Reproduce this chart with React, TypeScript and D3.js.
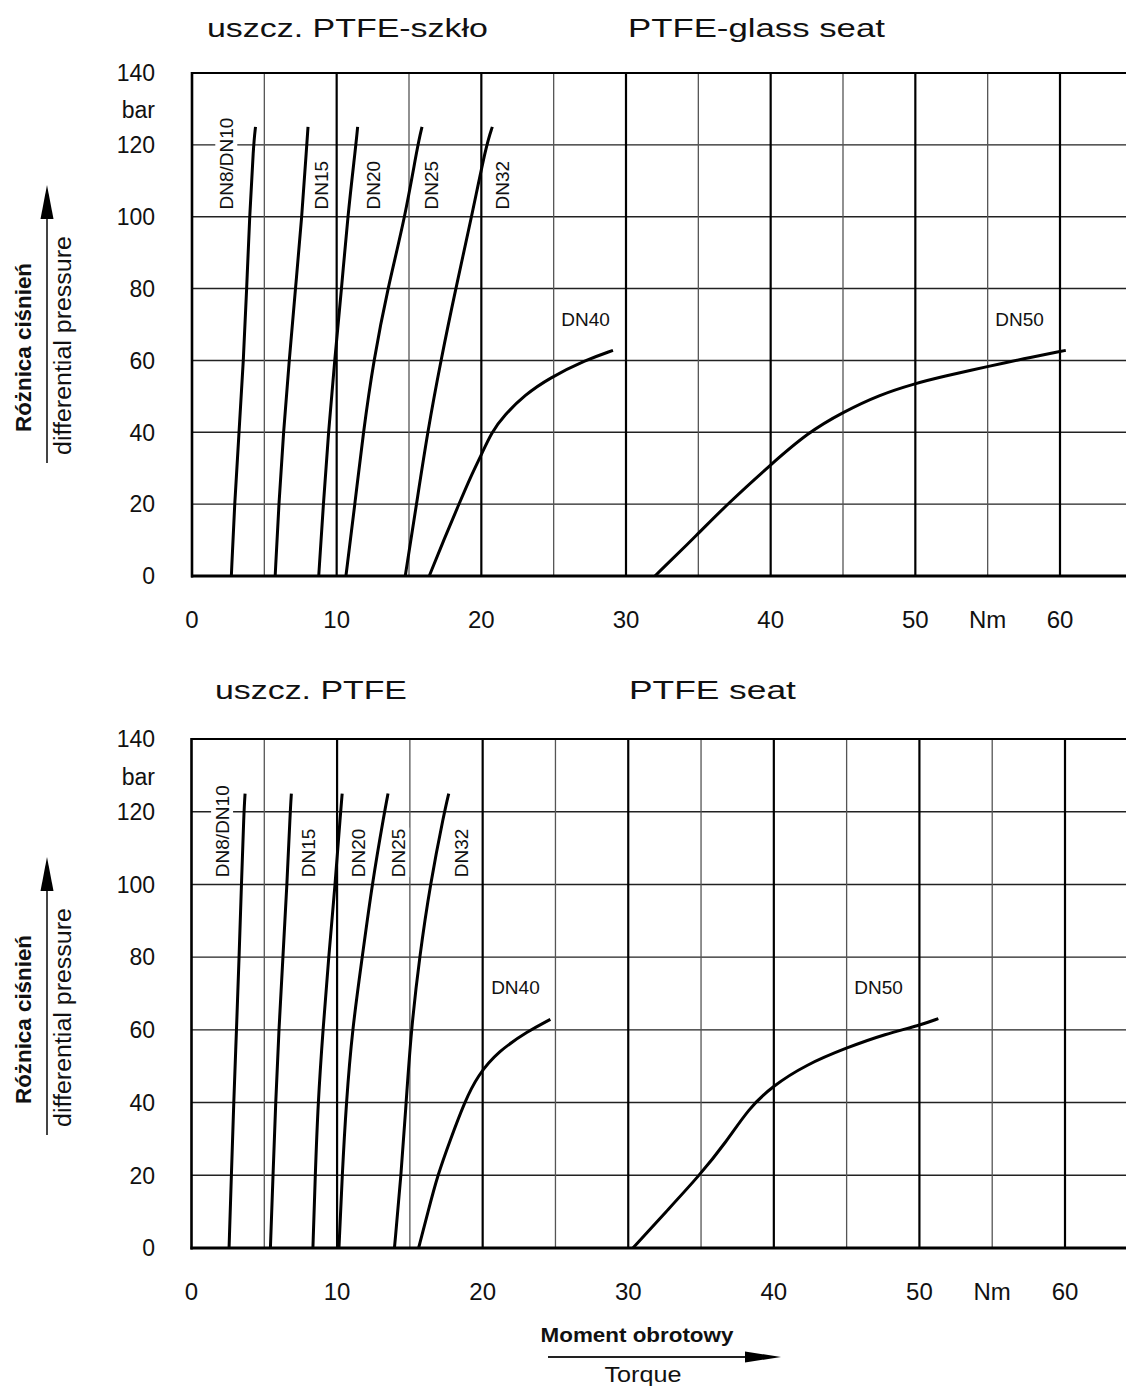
import React, { useLayoutEffect, useRef, useState } from "react";
import * as d3 from "d3";

// ---------- DATA ----------
const torqueTicks = [0, 10, 20, 30, 40, 50, 60];
const pressureTicks = [0, 20, 40, 60, 80, 100, 120, 140];
const torqueGrid = [5, 10, 15, 20, 25, 30, 35, 40, 45, 50, 55, 60];
const pressureGrid = [20, 40, 60, 80, 100, 120];
const torqueUnit = "Nm";
const torqueUnitAt = 55;
const pressureUnit = "bar";

// PTFE-glass seat: [torque Nm, pressure bar]
const glassDN8 = [[2.72, 0], [2.94, 20], [3.25, 40], [3.56, 60], [3.78, 80], [3.98, 100], [4.25, 120], [4.39, 125]];
const glassDN15 = [[5.75, 0], [6.0, 20], [6.32, 40], [6.72, 60], [7.15, 80], [7.6, 100], [7.93, 120], [8.02, 125]];
const glassDN20 = [[8.76, 0], [9.08, 20], [9.43, 40], [9.86, 60], [10.34, 80], [10.76, 100], [11.33, 120], [11.45, 125]];
const glassDN25 = [[10.64, 0], [11.26, 20], [11.84, 40], [12.55, 60], [13.52, 80], [14.74, 100], [15.6, 120], [15.9, 125]];
const glassDN32 = [[14.74, 0], [15.52, 20], [16.28, 40], [17.2, 60], [18.23, 80], [19.33, 100], [20.34, 120], [20.76, 125]];
const glassDN40 = [[16.4, 0], [17.4, 10], [18.4, 19.5], [19.3, 28], [20, 33.7], [20.7, 40], [21.6, 44.8], [23, 50.4], [24.7, 55.1], [27.2, 60.1], [29.1, 62.8]];
const glassDN50 = [[32, 0], [35, 11.8], [37, 20], [40, 31], [42.6, 40], [45, 45.6], [47.5, 50.4], [50, 53.6], [52, 55.6], [55, 58.3], [57.4, 60.4], [60.4, 62.8]];

// PTFE seat
const ptfeDN8 = [[2.58, 0], [2.74, 20], [2.9, 40], [3.09, 60], [3.27, 80], [3.43, 100], [3.6, 120], [3.68, 125]];
const ptfeDN15 = [[5.42, 0], [5.6, 20], [5.78, 40], [6.0, 60], [6.28, 80], [6.56, 100], [6.78, 120], [6.86, 125]];
const ptfeDN20 = [[8.34, 0], [8.5, 20], [8.69, 40], [9.03, 60], [9.42, 80], [9.87, 100], [10.24, 120], [10.35, 125]];
const ptfeDN25 = [[10.13, 0], [10.35, 20], [10.63, 40], [11.04, 60], [11.73, 80], [12.4, 100], [13.26, 120], [13.5, 125]];
const ptfeDN32 = [[13.94, 0], [14.4, 20], [14.74, 40], [15.09, 60], [15.66, 80], [16.39, 100], [17.37, 120], [17.67, 125]];
const ptfeDN40 = [[15.6, 0], [16.25, 10], [16.9, 20], [17.8, 30], [18.74, 40], [19.66, 47.5], [21.1, 54.2], [23.1, 59.6], [24.65, 62.9]];
const ptfeDN50 = [[30.32, 0], [32.6, 10], [34.9, 20], [36.7, 29], [38.3, 38.5], [39.9, 44.5], [42.2, 50.4], [45, 55.1], [47.7, 58.9], [50, 61.2], [51.3, 63.1]];

// labels: rotated (reading upward, start at pressure) and horizontal
const glassRotLabels = [
  { name: "DN8/DN10", t: 2.37 },
  { name: "DN15", t: 8.93 },
  { name: "DN20", t: 12.49 },
  { name: "DN25", t: 16.5 },
  { name: "DN32", t: 21.47 },
];
const glassFlatLabels = [
  { name: "DN40", t: 27.2, p: 69.6 },
  { name: "DN50", t: 57.2, p: 69.6 },
];
const ptfeRotLabels = [
  { name: "DN8/DN10", t: 2.1 },
  { name: "DN15", t: 8.0 },
  { name: "DN20", t: 11.42 },
  { name: "DN25", t: 14.2 },
  { name: "DN32", t: 18.5 },
];
const ptfeFlatLabels = [
  { name: "DN40", t: 22.25, p: 69.9 },
  { name: "DN50", t: 47.2, p: 69.9 },
];
const rotLabelStart = 102;

const yTitlePl = "Różnica ciśnień";
const yTitleEn = "differential pressure";
const xTitlePl = "Moment obrotowy";
const xTitleEn = "Torque";

// ---------- LAYOUT ----------
const W = 1126;
const H = 1386;
const FONT = "'Liberation Sans', Arial, Helvetica, sans-serif";

const charts = [
  {
    key: "glass",
    titlePl: "uszcz. PTFE-szkło",
    titleEn: "PTFE-glass seat",
    titlePlX: 207, titlePlW: 281,
    titleEnX: 628, titleEnW: 257,
    titleBase: 37,
    x0: 192, x60: 1060, y0: 576, y140: 73,
    series: [glassDN8, glassDN15, glassDN20, glassDN25, glassDN32, glassDN40, glassDN50],
    rot: glassRotLabels,
    flat: glassFlatLabels,
    xTitle: false,
  },
  {
    key: "ptfe",
    titlePl: "uszcz. PTFE",
    titleEn: "PTFE seat",
    titlePlX: 215, titlePlW: 192,
    titleEnX: 629, titleEnW: 167,
    titleBase: 698.5,
    x0: 191.5, x60: 1065, y0: 1248, y140: 739,
    series: [ptfeDN8, ptfeDN15, ptfeDN20, ptfeDN25, ptfeDN32, ptfeDN40, ptfeDN50],
    rot: ptfeRotLabels,
    flat: ptfeFlatLabels,
    xTitle: true,
  },
];

// text stretched horizontally (along its own direction) to a target width
function StretchText({ x, y, rotate = 0, width, anchor = "start", dy, children, ...rest }) {
  const ref = useRef(null);
  const [s, setS] = useState(1);
  useLayoutEffect(() => {
    if (ref.current) {
      const w = ref.current.getComputedTextLength();
      if (w > 0) setS(width / w);
    }
  }, [width, children]);
  return (
    <text ref={ref} transform={`translate(${x},${y}) rotate(${rotate}) scale(${s},1)`}
      textAnchor={anchor} dy={dy} fontFamily={FONT} fill="#111" {...rest}>
      {children}
    </text>
  );
}

function Chart({ c }) {
  const x = d3.scaleLinear().domain([0, 60]).range([c.x0, c.x60]);
  const y = d3.scaleLinear().domain([0, 140]).range([c.y0, c.y140]);
  const line = d3
    .line()
    .x((d) => x(d[0]))
    .y((d) => y(d[1]))
    .curve(d3.curveBasis);
  const right = W;
  const ink = "#111";

  return (
    <g>
      {/* titles */}
      <StretchText x={c.titlePlX} y={c.titleBase} width={c.titlePlW} fontSize={26}>{c.titlePl}</StretchText>
      <StretchText x={c.titleEnX} y={c.titleBase} width={c.titleEnW} fontSize={26}>{c.titleEn}</StretchText>

      {/* horizontal grid */}
      {pressureGrid.map((p) => (
        <line key={"h" + p} x1={c.x0} x2={right} y1={y(p)} y2={y(p)} stroke="#222" strokeWidth={1.4} />
      ))}
      {/* vertical grid */}
      {torqueGrid.map((t) => (
        <line key={"v" + t} x1={x(t)} x2={x(t)} y1={y(140)} y2={y(0)}
          stroke={t % 10 === 0 ? "#000" : "#555"} strokeWidth={t % 10 === 0 ? 2.2 : 1.3} />
      ))}
      {/* top border */}
      <line x1={c.x0} x2={right} y1={y(140)} y2={y(140)} stroke="#000" strokeWidth={2} />

      {/* rotated labels with white knock-out */}
      {c.rot.map((l) => {
        const len = l.name.length * 0.6 * 19 + 4;
        return (
          <rect key={"m" + l.name} x={x(l.t) - 11} y={y(rotLabelStart) - len} width={22} height={len} fill="#fff" />
        );
      })}
      {c.rot.map((l) => (
        <text key={"r" + l.name} transform={`translate(${x(l.t)},${y(rotLabelStart)}) rotate(-90)`}
          dy="0.36em" fontSize={19} fontFamily={FONT} fill={ink}>{l.name}</text>
      ))}
      {c.flat.map((l) => (
        <text key={"f" + l.name} x={x(l.t)} y={y(l.p)} textAnchor="middle" fontSize={19} fontFamily={FONT} fill={ink}>
          {l.name}
        </text>
      ))}

      {/* curves */}
      {c.series.map((s, i) => (
        <path key={"s" + i} d={line(s)} fill="none" stroke="#000" strokeWidth={3} strokeLinecap="butt" />
      ))}

      {/* axes */}
      <line x1={c.x0} x2={c.x0} y1={y(140) - 1} y2={y(0) + 1.5} stroke="#000" strokeWidth={2.6} />
      <line x1={c.x0 - 1} x2={right} y1={y(0)} y2={y(0)} stroke="#000" strokeWidth={3} />

      {/* y ticks */}
      {pressureTicks.map((p) => (
        <text key={"yt" + p} x={155} y={y(p)} dy="0.36em" textAnchor="end" fontSize={23} fontFamily={FONT} fill={ink}>
          {p}
        </text>
      ))}
      <text x={155} y={y(130) + 1} dy="0.36em" textAnchor="end" fontSize={23} fontFamily={FONT} fill={ink}>
        {pressureUnit}
      </text>

      {/* x ticks */}
      {torqueTicks.map((t) => (
        <text key={"xt" + t} x={x(t)} y={c.y0 + 52} textAnchor="middle" fontSize={24} fontFamily={FONT} fill={ink}>
          {t}
        </text>
      ))}
      <text x={x(torqueUnitAt)} y={c.y0 + 52} textAnchor="middle" fontSize={24} fontFamily={FONT} fill={ink}>
        {torqueUnit}
      </text>

      {/* y axis title */}
      <StretchText x={23} y={c.y0 - 228.5} rotate={-90} dy="0.36em" anchor="middle" width={169}
        fontSize={22} fontWeight="bold">{yTitlePl}</StretchText>
      <line x1={47} x2={47} y1={c.y0 - 113} y2={c.y0 - 360} stroke="#444" strokeWidth={2} />
      <polygon points={`47,${c.y0 - 391} 40.5,${c.y0 - 357} 53.5,${c.y0 - 357}`} fill="#000" />
      <StretchText x={64} y={c.y0 - 230.5} rotate={-90} dy="0.3em" anchor="middle" width={219}
        fontSize={23}>{yTitleEn}</StretchText>

      {c.xTitle && (
        <g>
          <StretchText x={637} y={1342} anchor="middle" width={193} fontSize={21} fontWeight="bold">{xTitlePl}</StretchText>
          <line x1={548} x2={750} y1={1357} y2={1357} stroke="#222" strokeWidth={2} />
          <polygon points={`781,1357 745,1351.5 745,1362.5`} fill="#000" />
          <StretchText x={643} y={1382} anchor="middle" width={77} fontSize={22}>{xTitleEn}</StretchText>
        </g>
      )}
    </g>
  );
}

export default function App() {
  return (
    <svg width={W} height={H} viewBox={`0 0 ${W} ${H}`}
      style={{ position: "absolute", left: 0, top: 0, display: "block", background: "#fff" }}>
      <rect x={0} y={0} width={W} height={H} fill="#fff" />
      {charts.map((c) => (
        <Chart key={c.key} c={c} />
      ))}
    </svg>
  );
}
